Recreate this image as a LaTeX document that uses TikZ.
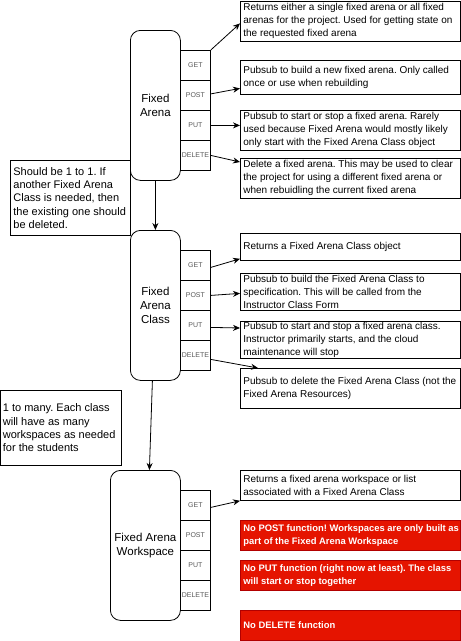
\documentclass[tikz,border=0pt]{standalone}
\usepackage{fontspec}
\setmainfont{Liberation Sans}
\usetikzlibrary{arrows.meta}
\definecolor{alertfill}{HTML}{E51400}
\definecolor{alertline}{HTML}{B20000}
\begin{document}
\frenchspacing
\begin{tikzpicture}[x=1pt,y=-1pt,line width=0.8pt,
  box/.style={draw, anchor=north west, inner sep=0pt},
  ent/.style={box, rounded corners=10pt, align=center, font=\fontsize{11.5}{14}\selectfont},
  meth/.style={box, minimum width=30pt, minimum height=30pt, font=\fontsize{7}{8}\selectfont, text=black!65},
  desc/.style={box, minimum width=220pt},
  alertbox/.style={desc, fill=alertfill, draw=alertline},
  txt/.style={anchor=west, inner sep=0pt, align=left, font=\fontsize{10}{13}\selectfont},
  atxt/.style={txt, text=white, font=\fontsize{9.4}{13}\selectfont\bfseries},
  ntxt/.style={anchor=west, inner sep=0pt, align=left, font=\fontsize{11}{13.3}\selectfont},
  arr/.style={-{Stealth[length=7pt,width=6pt]}}]
\useasboundingbox (0,0) rectangle (461,641);

% ---------- Fixed Arena ----------
\node[ent, minimum width=50pt, minimum height=150pt] (fa) at (130,30) {Fixed\\Arena};
\node[meth] (faget) at (180,50) {GET};
\node[meth] (fapost) at (180,80) {POST};
\node[meth] (faput) at (180,110) {PUT};
\node[meth] (fadel) at (180,140) {DELETE};

\node[desc, minimum height=40pt] (d1) at (240,1) {};
\node[txt] (d1t) at ([xshift=3pt]d1.west) {Returns either a single fixed arena or all fixed\\arenas for the project. Used for getting state on\\the requested fixed arena};
\node[desc, minimum height=34pt] (d2) at (240,60) {};
\node[txt] (d2t) at ([xshift=3pt]d2.west) {Pubsub to build a new fixed arena. Only called\\once or use when rebuilding};
\node[desc, minimum height=40pt] (d3) at (240,110) {};
\node[txt] (d3t) at ([xshift=3pt]d3.west) {Pubsub to start or stop a fixed arena. Rarely\\used because Fixed Arena would mostly likely\\only start with the Fixed Arena Class object};
\node[desc, minimum height=40pt] (d4) at (240,158) {};
\node[txt] (d4t) at ([xshift=3pt]d4.west) {Delete a fixed arena. This may be used to clear\\the project for using a different fixed arena or\\when rebuidling the current fixed arena};

\draw[arr] (faget.north east) -- ([yshift=-2pt]d1.west);
\draw[arr] ([yshift=1.5pt]fapost.east) -- ([yshift=-11pt]d2.west);
\draw[arr] (faput.east) -- ([yshift=5pt]d3.west);
\draw[arr] (fadel.east) -- ([yshift=-4pt]d4.north west);

% note 1
\node[box, minimum width=120pt, minimum height=75pt] (n1) at (10,160) {};
\node[ntxt] (n1t) at ([xshift=3pt]n1.west) {Should be 1 to 1. If\\another Fixed Arena\\Class is needed, then\\the existing one should\\be deleted.};

% ---------- Fixed Arena Class ----------
\node[ent, minimum width=50pt, minimum height=150pt] (fc) at (130,230) {Fixed\\Arena\\Class};
\node[meth] (fcget) at (180,250) {GET};
\node[meth] (fcpost) at (180,280) {POST};
\node[meth] (fcput) at (180,310) {PUT};
\node[meth] (fcdel) at (180,340) {DELETE};

\draw[arr] (fa.south) -- (fc.north);

\node[desc, minimum height=27pt] (c1) at (240,233) {};
\node[txt] (c1t) at ([xshift=3pt]c1.west) {Returns a Fixed Arena Class object};
\node[desc, minimum height=37pt] (c2) at (240,273) {};
\node[txt] (c2t) at ([xshift=3pt]c2.west) {Pubsub to build the Fixed Arena Class to\\specification. This will be called from the\\Instructor Class Form};
\node[desc, minimum height=37pt] (c3) at (240,321) {};
\node[txt] (c3t) at ([xshift=3pt]c3.west) {Pubsub to start and stop a fixed arena class.\\Instructor primarily starts, and the cloud\\maintenance will stop};
\node[desc, minimum height=40pt] (c4) at (240,368) {};
\node[txt] (c4t) at ([xshift=3pt]c4.west) {Pubsub to delete the Fixed Arena Class (not the\\Fixed Arena Resources)};

\draw[arr] ([yshift=-2pt]fcget.east) -- ([yshift=2pt]c1.south west);
\draw[arr] (fcpost.east) -- ([yshift=-1.5pt]c2.west);
\draw[arr] ([yshift=-2pt]fcput.east) -- ([yshift=-7pt]c3.north west);
\draw[arr] ([yshift=-4pt]fcdel.east) -- ([xshift=18pt]c4.north west);

% note 2
\node[box, minimum width=120pt, minimum height=75pt] (n2) at (0.5,390) {};
\node[ntxt] (n2t) at ([xshift=2pt]n2.west) {1 to many. Each class\\will have as many\\workspaces as needed\\for the students};

% ---------- Fixed Arena Workspace ----------
\node[ent, minimum width=70pt, minimum height=150pt] (fw) at (110,470) {Fixed Arena\\Workspace};
\node[meth] (fwget) at (180,490) {GET};
\node[meth] (fwpost) at (180,520) {POST};
\node[meth] (fwput) at (180,550) {PUT};
\node[meth] (fwdel) at (180,580) {DELETE};

\draw[arr] ([xshift=-3pt]fc.south) -- ([xshift=4pt]fw.north);

\node[desc, minimum height=30pt] (w1) at (240,470) {};
\node[txt] (w1t) at ([xshift=3pt]w1.west) {Returns a fixed arena workspace or list\\associated with a Fixed Arena Class};
\node[alertbox, minimum height=30pt] (r1) at (240,520) {};
\node[atxt] (r1t) at ([xshift=3pt]r1.west) {No POST function! Workspaces are only built as\\part of the Fixed Arena Workspace};
\node[alertbox, minimum height=30pt] (r2) at (240,560) {};
\node[atxt] (r2t) at ([xshift=3pt]r2.west) {No PUT function (right now at least). The class\\will start or stop together};
\node[alertbox, minimum height=30pt] (r3) at (240,610) {};
\node[atxt] (r3t) at ([xshift=3pt]r3.west) {No DELETE function};

\draw[arr] ([yshift=-2pt]fwget.east) -- (w1.south west);
\end{tikzpicture}
\end{document}
